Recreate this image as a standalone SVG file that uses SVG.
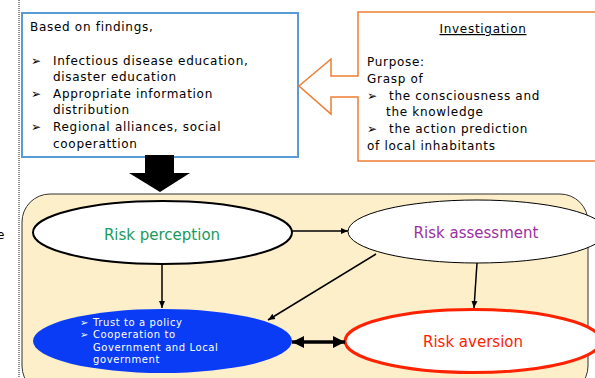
<svg xmlns="http://www.w3.org/2000/svg" width="595" height="378" viewBox="0 0 595 378">
<style>
.t{font-family:"DejaVu Sans","Liberation Sans",sans-serif;font-size:12px;letter-spacing:0.7px;fill:#000}
.w{font-family:"DejaVu Sans","Liberation Sans",sans-serif;font-size:10px;letter-spacing:0.6px;fill:#fff}
.lbl{font-family:"DejaVu Sans","Liberation Sans",sans-serif;font-size:15px;text-anchor:middle}
.ln{stroke:#000;stroke-width:1.5;fill:none}
</style>
<defs>
<marker id="ah" markerWidth="8" markerHeight="8" refX="7" refY="4" orient="auto" markerUnits="userSpaceOnUse"><path d="M0,1 L7,4 L0,7 Z" fill="#000"/></marker>
<marker id="big" markerWidth="14" markerHeight="14" refX="12" refY="7" orient="auto-start-reverse" markerUnits="userSpaceOnUse"><path d="M0,1 L12,7 L0,13 Z" fill="#000"/></marker>
</defs>
<rect width="595" height="378" fill="#fff"/>
<text class="t" x="-3" y="239">e</text>
<line x1="19" y1="0" x2="19" y2="378" stroke="#444" stroke-width="1.2" stroke-dasharray="1,1"/>
<g id="findings">
<rect x="22" y="13" width="276" height="144" fill="#fff" stroke="#5b9bd5" stroke-width="2"/>
<text class="t" x="30" y="31">Based on findings,</text>
<text class="t" x="31" y="65">➢</text><text class="t" x="53" y="65">Infectious disease education,</text>
<text class="t" x="53" y="81">disaster education</text>
<text class="t" x="31" y="98">➢</text><text class="t" x="53" y="98">Appropriate information</text>
<text class="t" x="53" y="114">distribution</text>
<text class="t" x="31" y="131">➢</text><text class="t" x="53" y="131">Regional alliances, social</text>
<text class="t" x="53" y="148">cooperattion</text>
</g>
<g id="investigation">
<path d="M358,76 L331,76 L331,59 L299,86 L331,114 L331,97 L358,97 L358,161 L600,161 L600,12 L358,12 Z" fill="#fff" stroke="#ed7d31" stroke-width="1.5"/>
<text class="t" x="483" y="33" text-anchor="middle" text-decoration="underline">Investigation</text>
<text class="t" x="367" y="66">Purpose:</text>
<text class="t" x="367" y="83">Grasp of</text>
<text class="t" x="367" y="100">➢</text><text class="t" x="389" y="100">the consciousness and</text>
<text class="t" x="386" y="116">the knowledge</text>
<text class="t" x="367" y="133">➢</text><text class="t" x="389" y="133">the action prediction</text>
<text class="t" x="367" y="150">of local inhabitants</text>
</g>
<g id="down-arrow">
<path d="M145,155 L174,155 L174,173 L190,173 L160,192 L129,173 L145,173 Z" fill="#000"/>
</g>
<g id="risk-area">
<rect x="22" y="194" width="566" height="200" rx="28" fill="#fdefca" stroke="#333" stroke-width="1"/>
</g>
<g id="risk-perception">
<ellipse cx="162.5" cy="232.5" rx="129.5" ry="31.5" fill="#fff" stroke="#000" stroke-width="2"/>
<text class="lbl" x="162" y="240" fill="#1a9a5c">Risk perception</text>
</g>
<g id="risk-assessment">
<ellipse cx="477" cy="231.5" rx="129" ry="31.5" fill="#fff" stroke="#000" stroke-width="1"/>
<text class="lbl" x="476" y="238" fill="#9b30a0">Risk assessment</text>
</g>
<g id="trust">
<ellipse cx="162.5" cy="341" rx="129.5" ry="32" fill="#0a3cf5"/>
<text class="w" x="80" y="326">➢</text><text class="w" x="93" y="326">Trust to a policy</text>
<text class="w" x="80" y="338">➢</text><text class="w" x="93" y="338">Cooperation to</text>
<text class="w" x="93" y="351">Government and Local</text>
<text class="w" x="93" y="363">government</text>
</g>
<g id="risk-aversion">
<ellipse cx="473" cy="341" rx="128" ry="31.5" fill="#fff" stroke="#ff2200" stroke-width="3"/>
<text class="lbl" x="473" y="347" fill="#ff2200">Risk aversion</text>
</g>
<g id="connectors">
<line class="ln" x1="292" y1="231" x2="348" y2="231" marker-end="url(#ah)"/>
<line class="ln" x1="162" y1="264" x2="162" y2="308" marker-end="url(#ah)"/>
<line class="ln" x1="477" y1="263" x2="474" y2="308" marker-end="url(#ah)"/>
<line class="ln" x1="376" y1="254" x2="268" y2="320" marker-end="url(#ah)"/>
<line x1="292" y1="342" x2="345" y2="342" stroke="#000" stroke-width="3.5" marker-start="url(#big)" marker-end="url(#big)"/>
</g>
</svg>
